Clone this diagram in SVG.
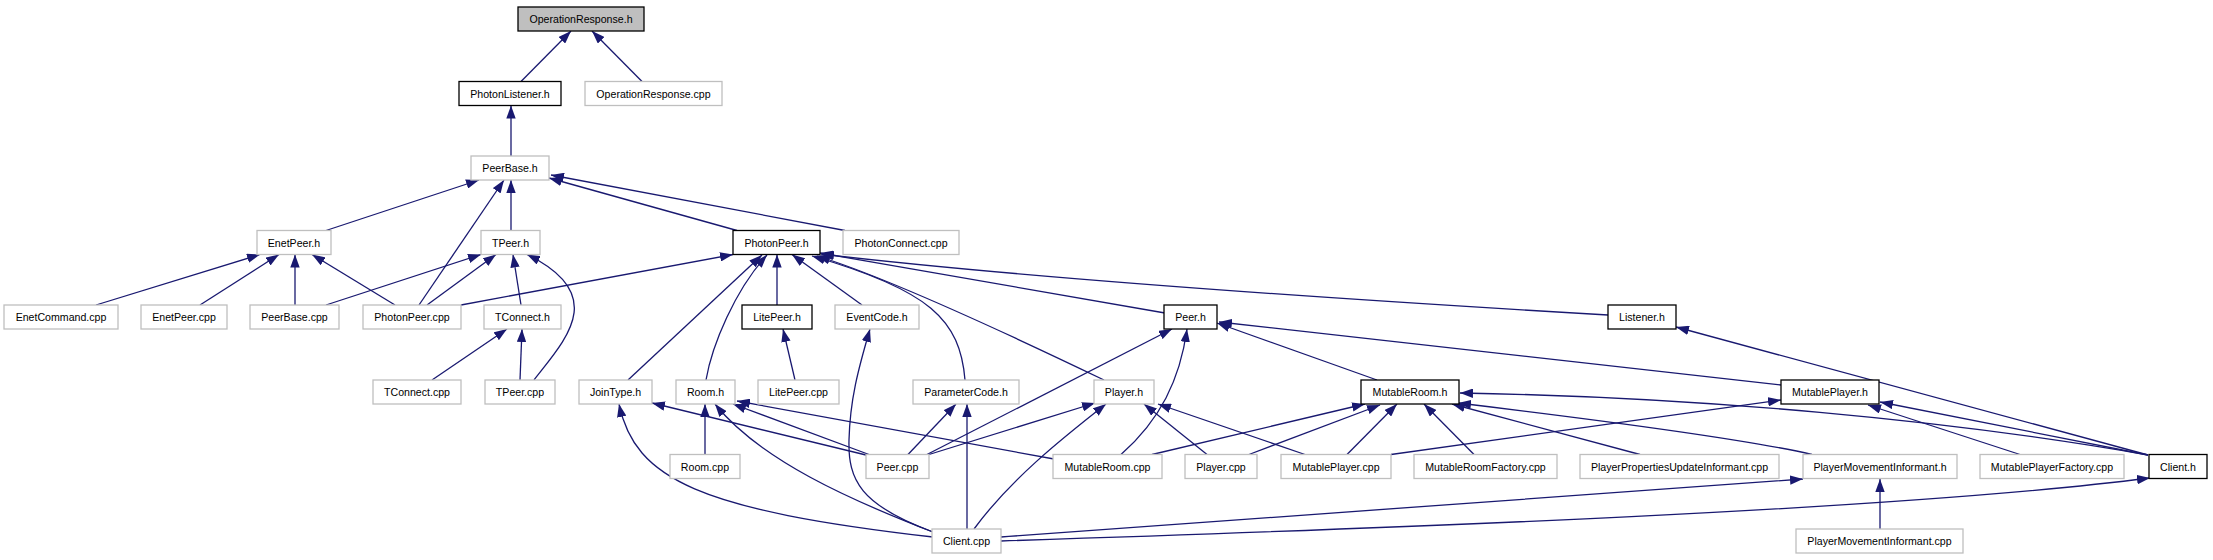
<svg xmlns="http://www.w3.org/2000/svg" width="2213" height="560" viewBox="0 0 2213 560">
<style>
rect{fill:#fff;stroke:#bfbfbf;stroke-width:1.3}
.k rect{stroke:#000}
.r rect{fill:#bfbfbf;stroke:#000}
text{font-family:"Liberation Sans",Arial,Helvetica,sans-serif;font-size:10.6px;text-anchor:middle;fill:#000}
.e path{fill:none;stroke:#191970;stroke-width:1.3;marker-end:url(#a)}
</style>
<defs>
<marker id="a" viewBox="0 0 13 9.4" refX="13" refY="4.7" markerWidth="13" markerHeight="9.4" markerUnits="userSpaceOnUse" orient="auto"><path d="M0,0 L13,4.7 L0,9.4 z" fill="#191970"/></marker>
</defs>
<rect x="0" y="0" width="2213" height="560" style="fill:#fff;stroke:none"/>
<g class="e" id="edges">
<path d="M521,81.5 L571,31"/>
<path d="M642,81.5 L592,31"/>
<path d="M511,156 L511,105.5"/>
<path d="M326,230.5 L479,180"/>
<path d="M419,305 L504,180"/>
<path d="M511,230.5 L511,180"/>
<path d="M737,230.5 L549,178"/>
<path d="M845,230.5 L551,175"/>
<path d="M96,305 L260,254.5"/>
<path d="M200,305 L279,254.5"/>
<path d="M295,305 L295,254.5"/>
<path d="M395,305 L312,254.5"/>
<path d="M326,305 L481,254.5"/>
<path d="M427,305 L496,254.5"/>
<path d="M521,305 L513,254.5"/>
<path d="M534,380 C565,340 610,295 527,254.5"/>
<path d="M432,380 L507,329"/>
<path d="M520,380 L522,329"/>
<path d="M461,305 L733,254.5"/>
<path d="M628,380 L762,255"/>
<path d="M706,380 C712,345 735,290 767,255"/>
<path d="M777,305 L777,254.5"/>
<path d="M862,305 L792,254.5"/>
<path d="M965,380 C960,320 930,290 812,256"/>
<path d="M1104,380 C1000,330 880,275 817,256"/>
<path d="M1165,313 L820,253"/>
<path d="M1608,315 C1300,297 1000,275 821,254"/>
<path d="M926,455 L1172,329"/>
<path d="M1121,454.5 C1160,420 1180,380 1187,329"/>
<path d="M1377,380 L1217,323"/>
<path d="M1781,385 L1219,322"/>
<path d="M795,380 L783,329"/>
<path d="M933,532 C860,505 848,480 849,440 C850,400 858,370 870,329"/>
<path d="M2148,455 L1676,327"/>
<path d="M866,455 L652,403"/>
<path d="M933,537 C700,510 635,480 619,404"/>
<path d="M705,454.5 L705,404"/>
<path d="M933,532 C850,500 760,460 715,404"/>
<path d="M869,454.5 L733,404"/>
<path d="M1054,459 L737,401"/>
<path d="M908,454.5 L956,404"/>
<path d="M967,529 L967,404"/>
<path d="M929,454.5 L1095,403"/>
<path d="M974,529 C1010,480 1060,440 1106,404"/>
<path d="M1207,454.5 L1144,404"/>
<path d="M1305,454.5 L1158,404"/>
<path d="M1152,454.5 L1365,404"/>
<path d="M1249,454.5 L1380,405"/>
<path d="M1347,454.5 L1397,404"/>
<path d="M1474,454.5 L1424,404"/>
<path d="M1640,454.5 L1452,404"/>
<path d="M1812,454.5 C1750,440 1600,420 1458,403"/>
<path d="M2148,455 C1950,420 1700,397 1460,393"/>
<path d="M1391,454.5 L1781,400"/>
<path d="M2020,454.5 L1868,405"/>
<path d="M2148,455 L1880,402"/>
<path d="M1880,529 L1880,479"/>
<path d="M1001,537 C1300,515 1600,495 1803,479"/>
<path d="M1001,541 C1400,528 1900,510 2150,478"/>
</g>
<g id="OperationResponse_h" class="r"><rect x="518" y="7" width="126" height="24"/><text x="581" y="23">OperationResponse.h</text></g>
<g id="PhotonListener_h" class="k"><rect x="459" y="81.5" width="102" height="24"/><text x="510" y="97.5">PhotonListener.h</text></g>
<g id="OperationResponse_cpp"><rect x="585" y="81.5" width="137" height="24"/><text x="653.5" y="97.5">OperationResponse.cpp</text></g>
<g id="PeerBase_h"><rect x="471" y="156" width="78" height="24"/><text x="510" y="172">PeerBase.h</text></g>
<g id="EnetPeer_h"><rect x="257" y="230.5" width="74" height="24"/><text x="294" y="246.5">EnetPeer.h</text></g>
<g id="TPeer_h"><rect x="481" y="230.5" width="59" height="24"/><text x="510.5" y="246.5">TPeer.h</text></g>
<g id="PhotonPeer_h" class="k"><rect x="733" y="230.5" width="87" height="24"/><text x="776.5" y="246.5">PhotonPeer.h</text></g>
<g id="PhotonConnect_cpp"><rect x="843" y="230.5" width="116" height="24"/><text x="901" y="246.5">PhotonConnect.cpp</text></g>
<g id="EnetCommand_cpp"><rect x="4" y="305" width="114" height="24"/><text x="61" y="321">EnetCommand.cpp</text></g>
<g id="EnetPeer_cpp"><rect x="141" y="305" width="86" height="24"/><text x="184" y="321">EnetPeer.cpp</text></g>
<g id="PeerBase_cpp"><rect x="250" y="305" width="89" height="24"/><text x="294.5" y="321">PeerBase.cpp</text></g>
<g id="PhotonPeer_cpp"><rect x="363" y="305" width="98" height="24"/><text x="412" y="321">PhotonPeer.cpp</text></g>
<g id="TConnect_h"><rect x="484" y="305" width="77" height="24"/><text x="522.5" y="321">TConnect.h</text></g>
<g id="LitePeer_h" class="k"><rect x="742" y="305" width="70" height="24"/><text x="777" y="321">LitePeer.h</text></g>
<g id="EventCode_h"><rect x="835" y="305" width="84" height="24"/><text x="877" y="321">EventCode.h</text></g>
<g id="Peer_h" class="k"><rect x="1164" y="305" width="53" height="24"/><text x="1190.5" y="321">Peer.h</text></g>
<g id="Listener_h" class="k"><rect x="1608" y="305" width="68" height="24"/><text x="1642" y="321">Listener.h</text></g>
<g id="TConnect_cpp"><rect x="373" y="380" width="88" height="24"/><text x="417" y="396">TConnect.cpp</text></g>
<g id="TPeer_cpp"><rect x="485" y="380" width="70" height="24"/><text x="520" y="396">TPeer.cpp</text></g>
<g id="JoinType_h"><rect x="579" y="380" width="73" height="24"/><text x="615.5" y="396">JoinType.h</text></g>
<g id="Room_h"><rect x="676" y="380" width="59" height="24"/><text x="705.5" y="396">Room.h</text></g>
<g id="LitePeer_cpp"><rect x="758" y="380" width="81" height="24"/><text x="798.5" y="396">LitePeer.cpp</text></g>
<g id="ParameterCode_h"><rect x="913" y="380" width="106" height="24"/><text x="966" y="396">ParameterCode.h</text></g>
<g id="Player_h"><rect x="1094" y="380" width="60" height="24"/><text x="1124" y="396">Player.h</text></g>
<g id="MutableRoom_h" class="k"><rect x="1361" y="380" width="98" height="24"/><text x="1410" y="396">MutableRoom.h</text></g>
<g id="MutablePlayer_h" class="k"><rect x="1781" y="380" width="98" height="24"/><text x="1830" y="396">MutablePlayer.h</text></g>
<g id="Room_cpp"><rect x="670" y="454.5" width="70" height="24"/><text x="705" y="470.5">Room.cpp</text></g>
<g id="Peer_cpp"><rect x="866" y="454.5" width="63" height="24"/><text x="897.5" y="470.5">Peer.cpp</text></g>
<g id="MutableRoom_cpp"><rect x="1053" y="454.5" width="109" height="24"/><text x="1107.5" y="470.5">MutableRoom.cpp</text></g>
<g id="Player_cpp"><rect x="1185" y="454.5" width="72" height="24"/><text x="1221" y="470.5">Player.cpp</text></g>
<g id="MutablePlayer_cpp"><rect x="1281" y="454.5" width="110" height="24"/><text x="1336" y="470.5">MutablePlayer.cpp</text></g>
<g id="MutableRoomFactory_cpp"><rect x="1414" y="454.5" width="143" height="24"/><text x="1485.5" y="470.5">MutableRoomFactory.cpp</text></g>
<g id="PlayerPropertiesUpdateInformant_cpp"><rect x="1580" y="454.5" width="199" height="24"/><text x="1679.5" y="470.5">PlayerPropertiesUpdateInformant.cpp</text></g>
<g id="PlayerMovementInformant_h"><rect x="1803" y="454.5" width="154" height="24"/><text x="1880" y="470.5">PlayerMovementInformant.h</text></g>
<g id="MutablePlayerFactory_cpp"><rect x="1980" y="454.5" width="144" height="24"/><text x="2052" y="470.5">MutablePlayerFactory.cpp</text></g>
<g id="Client_h" class="k"><rect x="2149" y="454.5" width="58" height="24"/><text x="2178" y="470.5">Client.h</text></g>
<g id="Client_cpp"><rect x="932" y="529" width="69" height="24"/><text x="966.5" y="545">Client.cpp</text></g>
<g id="PlayerMovementInformant_cpp"><rect x="1796" y="529" width="167" height="24"/><text x="1879.5" y="545">PlayerMovementInformant.cpp</text></g>
</svg>
